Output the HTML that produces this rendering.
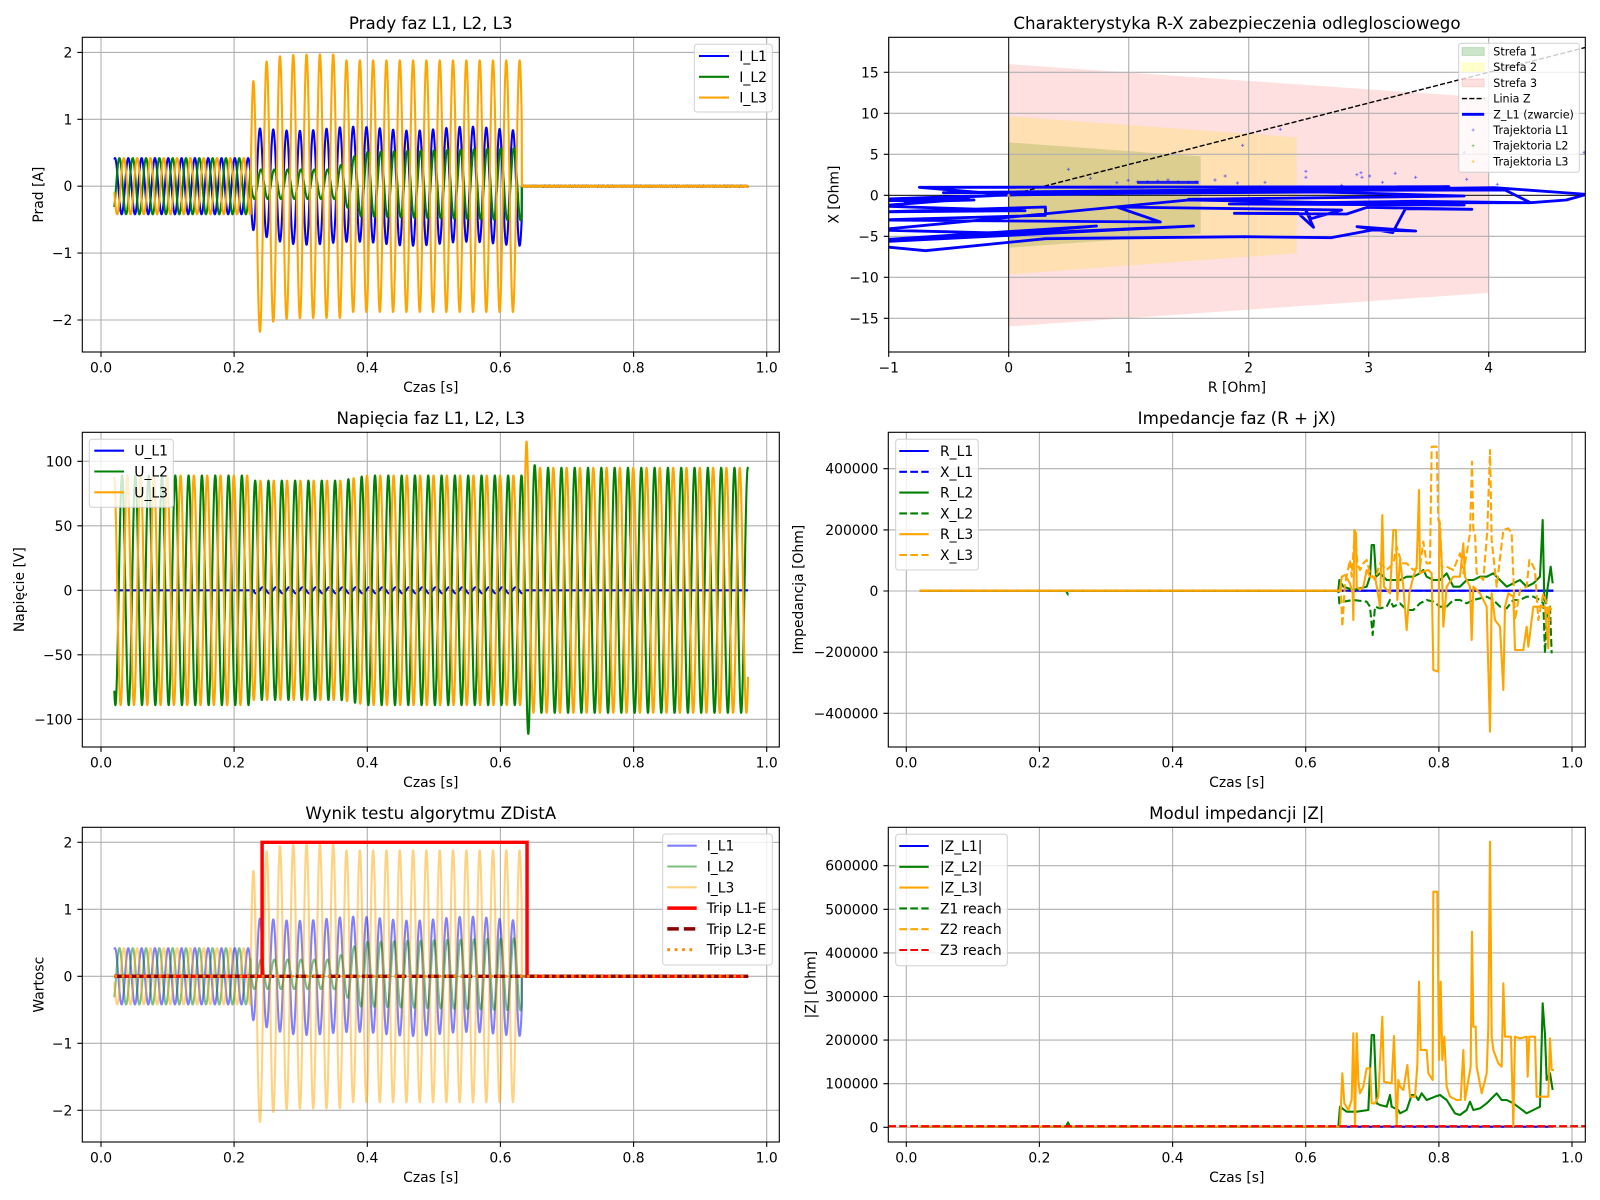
<!DOCTYPE html>
<html><head><meta charset="utf-8">
<style>
html,body{margin:0;padding:0;background:#fff;}
svg{display:block;font-family:"DejaVu Sans","Liberation Sans",sans-serif;}
.tk{font-size:13.9px;fill:#000}
.tt{font-size:16.7px;fill:#000}
.lb{font-size:13.9px;fill:#000}
.lg8{font-size:11.1px;fill:#000}
.gr{stroke:#b0b0b0;stroke-width:1.1;fill:none}
.tm{stroke:#000;stroke-width:1.1;fill:none}
.sp{stroke:#000;stroke-width:1.1;fill:none}
.lgb{fill:#fff;fill-opacity:0.8;stroke:#d0d0d0;stroke-width:1}
</style></head><body>
<svg xmlns="http://www.w3.org/2000/svg" width="1600" height="1200" viewBox="0 0 1600 1200">
<rect width="1600" height="1200" fill="#fff"/>
<defs>
<clipPath id="c1"><rect x="82.3" y="37.3" width="697" height="314.7"/></clipPath>
<clipPath id="c2"><rect x="888.7" y="37.3" width="696.6" height="314.7"/></clipPath>
<clipPath id="c3"><rect x="82.3" y="432.3" width="697" height="314.7"/></clipPath>
<clipPath id="c4"><rect x="888.3" y="432.3" width="697" height="314.7"/></clipPath>
<clipPath id="c5"><rect x="82.3" y="827.3" width="697" height="314.7"/></clipPath>
<clipPath id="c6"><rect x="888.3" y="827.3" width="697" height="314.7"/></clipPath>
</defs>

<!-- ===== A2 zones (below grid) ===== -->
<g clip-path="url(#c2)">
<polygon points="1008.7,142.4 1200.7,156.4 1200.7,233.8 1008.7,247.8" fill="#008000" fill-opacity="0.2"/>
<polygon points="1008.7,116.2 1296.7,137.3 1296.7,253.3 1008.7,274.4" fill="#ffff00" fill-opacity="0.2"/>
<polygon points="1008.7,64.1 1488.7,97.7 1488.7,292.9 1008.7,326.5" fill="#ff0000" fill-opacity="0.12"/>
</g>

<!-- ===== Grids ===== -->
<path class="gr" d="M101 37.3V352M234.1 37.3V352M367.3 37.3V352M500.4 37.3V352M633.6 37.3V352M766.7 37.3V352M82.3 52.4H779.3M82.3 119.3H779.3M82.3 186.2H779.3M82.3 253.1H779.3M82.3 320H779.3"/>
<path class="gr" d="M888.7 37.3V352M1008.7 37.3V352M1128.7 37.3V352M1248.7 37.3V352M1368.7 37.3V352M1488.7 37.3V352M888.7 72.3H1585.3M888.7 113.3H1585.3M888.7 154.3H1585.3M888.7 195.3H1585.3M888.7 236.3H1585.3M888.7 277.3H1585.3M888.7 318.3H1585.3"/>
<path class="gr" d="M101 432.3V747M234.1 432.3V747M367.3 432.3V747M500.4 432.3V747M633.6 432.3V747M766.7 432.3V747M82.3 461.3H779.3M82.3 525.8H779.3M82.3 590.3H779.3M82.3 654.8H779.3M82.3 719.3H779.3"/>
<path class="gr" d="M906.3 432.3V747M1039.4 432.3V747M1172.6 432.3V747M1305.7 432.3V747M1438.9 432.3V747M1572 432.3V747M888.3 468.7H1585.3M888.3 529.9H1585.3M888.3 591H1585.3M888.3 652.2H1585.3M888.3 713.3H1585.3"/>
<path class="gr" d="M101 827.3V1142M234.1 827.3V1142M367.3 827.3V1142M500.4 827.3V1142M633.6 827.3V1142M766.7 827.3V1142M82.3 842.3H779.3M82.3 909.3H779.3M82.3 976.3H779.3M82.3 1043.3H779.3M82.3 1110.3H779.3"/>
<path class="gr" d="M906.3 827.3V1142M1039.4 827.3V1142M1172.6 827.3V1142M1305.7 827.3V1142M1438.9 827.3V1142M1572 827.3V1142M888.3 865.7H1585.3M888.3 909.3H1585.3M888.3 952.9H1585.3M888.3 996.5H1585.3M888.3 1040.1H1585.3M888.3 1083.7H1585.3M888.3 1127.3H1585.3"/>

<!-- A2 static lines -->
<g clip-path="url(#c2)">
<path d="M1008.7 37.3V352M888.7 195.3H1585.3" stroke="#000" stroke-width="0.9" fill="none"/>
<path d="M1008.7 195.3L1590.7 46.1" stroke="#000" stroke-width="1.39" fill="none" stroke-dasharray="5.1 2.2"/>
</g>

<!-- data groups -->
<g id="d1" clip-path="url(#c1)"></g>
<g id="d2" clip-path="url(#c2)"></g>
<g id="d3" clip-path="url(#c3)"></g>
<g id="d4" clip-path="url(#c4)"></g>
<g id="d5" clip-path="url(#c5)"></g>
<g id="d6" clip-path="url(#c6)"></g>

<!-- spines -->
<rect class="sp" x="82.3" y="37.3" width="697" height="314.7"/>
<rect class="sp" x="888.7" y="37.3" width="696.6" height="314.7"/>
<rect class="sp" x="82.3" y="432.3" width="697" height="314.7"/>
<rect class="sp" x="888.3" y="432.3" width="697" height="314.7"/>
<rect class="sp" x="82.3" y="827.3" width="697" height="314.7"/>
<rect class="sp" x="888.3" y="827.3" width="697" height="314.7"/>

<!-- tick marks -->
<path class="tm" d="M101 352v4.9M234.1 352v4.9M367.3 352v4.9M500.4 352v4.9M633.6 352v4.9M766.7 352v4.9M82.3 52.4h-4.9M82.3 119.3h-4.9M82.3 186.2h-4.9M82.3 253.1h-4.9M82.3 320h-4.9"/>
<path class="tm" d="M888.7 352v4.9M1008.7 352v4.9M1128.7 352v4.9M1248.7 352v4.9M1368.7 352v4.9M1488.7 352v4.9M888.7 72.3h-4.9M888.7 113.3h-4.9M888.7 154.3h-4.9M888.7 195.3h-4.9M888.7 236.3h-4.9M888.7 277.3h-4.9M888.7 318.3h-4.9"/>
<path class="tm" d="M101 747v4.9M234.1 747v4.9M367.3 747v4.9M500.4 747v4.9M633.6 747v4.9M766.7 747v4.9M82.3 461.3h-4.9M82.3 525.8h-4.9M82.3 590.3h-4.9M82.3 654.8h-4.9M82.3 719.3h-4.9"/>
<path class="tm" d="M906.3 747v4.9M1039.4 747v4.9M1172.6 747v4.9M1305.7 747v4.9M1438.9 747v4.9M1572 747v4.9M888.3 468.7h-4.9M888.3 529.9h-4.9M888.3 591h-4.9M888.3 652.2h-4.9M888.3 713.3h-4.9"/>
<path class="tm" d="M101 1142v4.9M234.1 1142v4.9M367.3 1142v4.9M500.4 1142v4.9M633.6 1142v4.9M766.7 1142v4.9M82.3 842.3h-4.9M82.3 909.3h-4.9M82.3 976.3h-4.9M82.3 1043.3h-4.9M82.3 1110.3h-4.9"/>
<path class="tm" d="M906.3 1142v4.9M1039.4 1142v4.9M1172.6 1142v4.9M1305.7 1142v4.9M1438.9 1142v4.9M1572 1142v4.9M888.3 865.7h-4.9M888.3 909.3h-4.9M888.3 952.9h-4.9M888.3 996.5h-4.9M888.3 1040.1h-4.9M888.3 1083.7h-4.9M888.3 1127.3h-4.9"/>

<!-- ===== tick labels ===== -->
<g class="tk" text-anchor="middle">
<text x="101" y="372.3">0.0</text><text x="234.1" y="372.3">0.2</text><text x="367.3" y="372.3">0.4</text><text x="500.4" y="372.3">0.6</text><text x="633.6" y="372.3">0.8</text><text x="766.7" y="372.3">1.0</text>
<text x="888.7" y="372.3">−1</text><text x="1008.7" y="372.3">0</text><text x="1128.7" y="372.3">1</text><text x="1248.7" y="372.3">2</text><text x="1368.7" y="372.3">3</text><text x="1488.7" y="372.3">4</text>
<text x="101" y="767.3">0.0</text><text x="234.1" y="767.3">0.2</text><text x="367.3" y="767.3">0.4</text><text x="500.4" y="767.3">0.6</text><text x="633.6" y="767.3">0.8</text><text x="766.7" y="767.3">1.0</text>
<text x="906.3" y="767.3">0.0</text><text x="1039.4" y="767.3">0.2</text><text x="1172.6" y="767.3">0.4</text><text x="1305.7" y="767.3">0.6</text><text x="1438.9" y="767.3">0.8</text><text x="1572" y="767.3">1.0</text>
<text x="101" y="1162.3">0.0</text><text x="234.1" y="1162.3">0.2</text><text x="367.3" y="1162.3">0.4</text><text x="500.4" y="1162.3">0.6</text><text x="633.6" y="1162.3">0.8</text><text x="766.7" y="1162.3">1.0</text>
<text x="906.3" y="1162.3">0.0</text><text x="1039.4" y="1162.3">0.2</text><text x="1172.6" y="1162.3">0.4</text><text x="1305.7" y="1162.3">0.6</text><text x="1438.9" y="1162.3">0.8</text><text x="1572" y="1162.3">1.0</text>
</g>
<g class="tk" text-anchor="end">
<text x="72.3" y="57.4">2</text><text x="72.3" y="124.3">1</text><text x="72.3" y="191.2">0</text><text x="72.3" y="258.1">−1</text><text x="72.3" y="325">−2</text>
<text x="878.7" y="77.3">15</text><text x="878.7" y="118.3">10</text><text x="878.7" y="159.3">5</text><text x="878.7" y="200.3">0</text><text x="878.7" y="241.3">−5</text><text x="878.7" y="282.3">−10</text><text x="878.7" y="323.3">−15</text>
<text x="72.3" y="466.3">100</text><text x="72.3" y="530.8">50</text><text x="72.3" y="595.3">0</text><text x="72.3" y="659.8">−50</text><text x="72.3" y="724.3">−100</text>
<text x="878.3" y="473.7">400000</text><text x="878.3" y="534.9">200000</text><text x="878.3" y="596">0</text><text x="878.3" y="657.2">−200000</text><text x="878.3" y="718.3">−400000</text>
<text x="72.3" y="847.3">2</text><text x="72.3" y="914.3">1</text><text x="72.3" y="981.3">0</text><text x="72.3" y="1048.3">−1</text><text x="72.3" y="1115.3">−2</text>
<text x="878.3" y="870.7">600000</text><text x="878.3" y="914.3">500000</text><text x="878.3" y="957.9">400000</text><text x="878.3" y="1001.5">300000</text><text x="878.3" y="1045.1">200000</text><text x="878.3" y="1088.7">100000</text><text x="878.3" y="1132.3">0</text>
</g>

<!-- titles -->
<g class="tt" text-anchor="middle">
<text x="430.8" y="29">Prady faz L1, L2, L3</text>
<text x="1237" y="29">Charakterystyka R-X zabezpieczenia odleglosciowego</text>
<text x="430.8" y="424">Napięcia faz L1, L2, L3</text>
<text x="1236.8" y="424">Impedancje faz (R + jX)</text>
<text x="430.8" y="819">Wynik testu algorytmu ZDistA</text>
<text x="1236.8" y="819">Modul impedancji |Z|</text>
</g>

<!-- axis labels -->
<g class="lb" text-anchor="middle">
<text x="430.8" y="392">Czas [s]</text>
<text x="1237" y="392">R [Ohm]</text>
<text x="430.8" y="787">Czas [s]</text>
<text x="1236.8" y="787">Czas [s]</text>
<text x="430.8" y="1182">Czas [s]</text>
<text x="1236.8" y="1182">Czas [s]</text>
<text transform="translate(43,194.65) rotate(-90)">Prad [A]</text>
<text transform="translate(838.5,194.65) rotate(-90)">X [Ohm]</text>
<text transform="translate(24,589.65) rotate(-90)">Napięcie [V]</text>
<text transform="translate(803,589.65) rotate(-90)">Impedancja [Ohm]</text>
<text transform="translate(43.5,984.65) rotate(-90)">Wartosc</text>
<text transform="translate(815.5,984.65) rotate(-90)">|Z| [Ohm]</text>
</g>

<!-- ===== Legends ===== -->
<g>
<rect class="lgb" x="694.3" y="44.3" width="78" height="67.7" rx="2.8"/>
<path d="M699 56H729" stroke="#0000ff" stroke-width="2.08"/>
<path d="M699 76.8H729" stroke="#008000" stroke-width="2.08"/>
<path d="M699 97.6H729" stroke="#ffa500" stroke-width="2.08"/>
<g class="lb"><text x="739.3" y="61">I_L1</text><text x="739.3" y="81.8">I_L2</text><text x="739.3" y="102.6">I_L3</text></g>
</g>
<g>
<rect class="lgb" x="89.3" y="439.3" width="84" height="68" rx="2.8"/>
<path d="M94.3 450.7H124" stroke="#0000ff" stroke-width="2.08"/>
<path d="M94.3 471.5H124" stroke="#008000" stroke-width="2.08"/>
<path d="M94.3 492.3H124" stroke="#ffa500" stroke-width="2.08"/>
<g class="lb"><text x="134.3" y="455.7">U_L1</text><text x="134.3" y="476.5">U_L2</text><text x="134.3" y="497.3">U_L3</text></g>
</g>
<g>
<rect class="lgb" x="895.7" y="439.3" width="82.6" height="130.7" rx="2.8"/>
<path d="M899.3 451H928.7" stroke="#0000ff" stroke-width="2.08"/>
<path d="M899.3 471.8H928.7" stroke="#0000ff" stroke-width="2.08" stroke-dasharray="7.7 3.3"/>
<path d="M899.3 492.6H928.7" stroke="#008000" stroke-width="2.08"/>
<path d="M899.3 513.4H928.7" stroke="#008000" stroke-width="2.08" stroke-dasharray="7.7 3.3"/>
<path d="M899.3 534.2H928.7" stroke="#ffa500" stroke-width="2.08"/>
<path d="M899.3 555H928.7" stroke="#ffa500" stroke-width="2.08" stroke-dasharray="7.7 3.3"/>
<g class="lb"><text x="940" y="456">R_L1</text><text x="940" y="476.8">X_L1</text><text x="940" y="497.6">R_L2</text><text x="940" y="518.4">X_L2</text><text x="940" y="539.2">R_L3</text><text x="940" y="560">X_L3</text></g>
</g>
<g>
<rect class="lgb" x="662.7" y="834" width="109.6" height="131" rx="2.8"/>
<path d="M667.3 845.7H696.7" stroke="#0000ff" stroke-opacity="0.5" stroke-width="2.08"/>
<path d="M667.3 866.5H696.7" stroke="#008000" stroke-opacity="0.5" stroke-width="2.08"/>
<path d="M667.3 887.3H696.7" stroke="#ffa500" stroke-opacity="0.5" stroke-width="2.08"/>
<path d="M667.3 908.1H696.7" stroke="#ff0000" stroke-width="3.47"/>
<path d="M667.3 928.9H696.7" stroke="#8b0000" stroke-width="3.47" stroke-dasharray="11.5 5"/>
<path d="M667.3 949.7H696.7" stroke="#ff8c00" stroke-width="2.78" stroke-dasharray="2.78 4.59"/>
<g class="lb"><text x="706.7" y="850.7">I_L1</text><text x="706.7" y="871.5">I_L2</text><text x="706.7" y="892.3">I_L3</text><text x="706.7" y="913.1">Trip L1-E</text><text x="706.7" y="933.9">Trip L2-E</text><text x="706.7" y="954.7">Trip L3-E</text></g>
</g>
<g>
<rect class="lgb" x="895.7" y="834.3" width="111.6" height="131.4" rx="2.8"/>
<path d="M899.3 846H928.7" stroke="#0000ff" stroke-width="2.08"/>
<path d="M899.3 866.8H928.7" stroke="#008000" stroke-width="2.08"/>
<path d="M899.3 887.6H928.7" stroke="#ffa500" stroke-width="2.08"/>
<path d="M899.3 908.4H928.7" stroke="#008000" stroke-width="2.08" stroke-dasharray="7.7 3.3"/>
<path d="M899.3 929.2H928.7" stroke="#ffa500" stroke-width="2.08" stroke-dasharray="7.7 3.3"/>
<path d="M899.3 950H928.7" stroke="#ff0000" stroke-width="2.08" stroke-dasharray="7.7 3.3"/>
<g class="lb"><text x="940" y="851">|Z_L1|</text><text x="940" y="871.8">|Z_L2|</text><text x="940" y="892.6">|Z_L3|</text><text x="940" y="913.4">Z1 reach</text><text x="940" y="934.2">Z2 reach</text><text x="940" y="955">Z3 reach</text></g>
</g>
<g>
<rect class="lgb" x="1458.7" y="43.3" width="120.6" height="129" rx="2.5"/>
<rect x="1462" y="47.6" width="22.2" height="7.8" fill="#008000" fill-opacity="0.2" stroke="#008000" stroke-opacity="0.2"/>
<rect x="1462" y="63.3" width="22.2" height="7.8" fill="#ffff00" fill-opacity="0.2" stroke="#ffff00" stroke-opacity="0.2"/>
<rect x="1462" y="79" width="22.2" height="7.8" fill="#ff0000" fill-opacity="0.12" stroke="#ff0000" stroke-opacity="0.12"/>
<path d="M1462 98.6H1484.2" stroke="#000" stroke-width="1.39" stroke-dasharray="5.1 2.2"/>
<path d="M1462 114.3H1484.2" stroke="#0000ff" stroke-width="2.8"/>
<path d="M1471.6 130H1474.6M1473.1 128.5V131.5" stroke="#0000ff" stroke-opacity="0.5" stroke-width="0.8"/>
<path d="M1471.6 145.7H1474.6M1473.1 144.2V147.2" stroke="#008000" stroke-opacity="0.5" stroke-width="0.8"/>
<path d="M1471.6 161.4H1474.6M1473.1 159.9V162.9" stroke="#ffa500" stroke-opacity="0.7" stroke-width="0.8"/>
<g class="lg8"><text x="1493.3" y="55.5">Strefa 1</text><text x="1493.3" y="71.2">Strefa 2</text><text x="1493.3" y="86.9">Strefa 3</text><text x="1493.3" y="102.6">Linia Z</text><text x="1493.3" y="118.3">Z_L1 (zwarcie)</text><text x="1493.3" y="134">Trajektoria L1</text><text x="1493.3" y="149.7">Trajektoria L2</text><text x="1493.3" y="165.4">Trajektoria L3</text></g>
</g>
</svg>

<script>
(function(){
var NS="http://www.w3.org/2000/svg";
function P(pts){var s='';for(var i=0;i<pts.length;i++){s+=(i?'L':'M')+pts[i][0].toFixed(2)+' '+pts[i][1].toFixed(2);}return s;}
function add(gid,pts,stroke,w,extra){var p=document.createElementNS(NS,'path');p.setAttribute('d',typeof pts==='string'?pts:P(pts));p.setAttribute('fill','none');p.setAttribute('stroke',stroke);p.setAttribute('stroke-width',w);p.setAttribute('stroke-linejoin','round');if(extra){for(var k in extra)p.setAttribute(k,extra[k]);}document.getElementById(gid).appendChild(p);}
var W=2*Math.PI*50,D=Math.PI/180,tf=0.225,tc=0.636,tci=0.632;
function I1(t){if(t<tf)return 0.42*Math.sin(W*t+72*D);if(t<tci){var e=Math.exp(-(t-0.2288)/0.03);return (0.86-0.1*e)*Math.sin(W*t+111.6*D)+0.08*e+0.03*Math.sin(t*37);}return 0.006*Math.sin(t*2113)+0.004*Math.sin(t*5231);}
function I2(t){if(t<tf)return 0.42*Math.sin(W*t-48*D);if(t<tci){var a=t<0.35?0.22:(t<0.39?0.22+(t-0.35)/0.04*0.26:0.48+(t-0.39)*0.25);return a*Math.sin(W*t+84.7*D)+0.03;}return 0.005*Math.sin(t*3001);}
function I3(t){if(t<tf)return 0.42*Math.sin(W*t+192*D);if(t<tci){var a=t<0.36?1.97:1.88;return a*Math.sin(W*t-68.4*D)-0.4*Math.exp(-(t-0.2288)/0.015);}return 0.007*Math.sin(t*1789)+0.004*Math.sin(t*4447);}
function Uamp(t){if(t<tf)return 89;if(t<0.36)return 85;if(t<0.40)return 85+(t-0.36)/0.04*4;if(t<tc)return 89;return 95;}
function U1(t){if(t>=0.23&&t<tc)return 2.5*Math.sin(W*t+30*D);return 0;}
function U2(t){return (Uamp(t)+20*Math.exp(-Math.pow((t-0.644)/0.005,2)))*Math.sin(W*t-119*D);}
function U3(t){return (Uamp(t)+22*Math.exp(-Math.pow((t-0.6385)/0.003,2)))*Math.sin(W*t+99*D);}
function samp(f,X,Y){var pts=[];for(var t=0.02;t<=0.9721;t+=0.0002){pts.push([X(t),Y(f(t))]);}return pts;}
var XL=function(t){return 101+665.7*t;};
var Y1=function(v){return 186.2-66.9*v;};
var Y3=function(v){return 590.3-1.29*v;};
var Y5=function(v){return 976.3-67*v;};
var LW=2.08;
add('d1',samp(I1,XL,Y1),'#0000ff',LW);
add('d1',samp(I2,XL,Y1),'#008000',LW);
add('d1',samp(I3,XL,Y1),'#ffa500',LW);
add('d3',samp(U1,XL,Y3),'#0000ff',LW);
add('d3',samp(U2,XL,Y3),'#008000',LW);
add('d3',samp(U3,XL,Y3),'#ffa500',LW);
add('d5',samp(I1,XL,Y5),'#0000ff',LW,{'stroke-opacity':'0.5'});
add('d5',samp(I2,XL,Y5),'#008000',LW,{'stroke-opacity':'0.5'});
add('d5',samp(I3,XL,Y5),'#ffa500',LW,{'stroke-opacity':'0.5'});
add('d5',[[XL(0.02),Y5(0)],[XL(0.242),Y5(0)],[XL(0.242),Y5(2)],[XL(0.640),Y5(2)],[XL(0.640),Y5(0)],[XL(0.972),Y5(0)]],'#ff0000',3.47,{'stroke-linejoin':'miter'});
add('d5',[[XL(0.02),Y5(0)],[XL(0.972),Y5(0)]],'#8b0000',3.47,{'stroke-dasharray':'11.5 5'});
add('d5',[[XL(0.02),Y5(0)],[XL(0.972),Y5(0)]],'#ff8c00',2.78,{'stroke-dasharray':'2.78 4.59'});

function z9(a){return a.map(function(p){return [1300+p[0]/3,420+p[1]/3];});}
var f0=[919.6,590.7];
var RL3=[[120,512],[125,470],[135,465],[150,490],[158,520],[160,600],[163,330],[168,340],[170,500],[180,510],[190,500],[200,450],[210,470],[225,470],[232,510],[240,560],[247,285],[252,500],[270,520],[280,330],[288,330],[292,540],[300,420],[310,500],[320,630],[328,520],[340,470],[350,440],[357,210],[360,460],[370,455],[385,450],[395,460],[400,750],[415,755],[418,300],[425,420],[430,620],[440,500],[460,470],[480,470],[490,370],[495,470],[510,500],[515,660],[520,500],[540,520],[560,560],[570,935],[575,520],[585,600],[600,620],[610,810],[615,560],[625,520],[640,530],[645,690],[670,690],[680,620],[685,680],[700,560],[720,560],[735,560],[745,685],[748,560],[755,570]];
var XL3=[[120,512],[122,490],[127,620],[135,490],[150,420],[155,470],[165,330],[172,430],[180,450],[190,430],[200,420],[210,460],[225,480],[240,430],[260,450],[280,430],[290,380],[305,430],[320,430],[340,450],[360,440],[370,365],[380,430],[390,430],[395,80],[410,80],[415,300],[420,310],[425,440],[440,440],[460,450],[480,400],[490,460],[510,340],[516,125],[520,330],[525,340],[530,460],[550,480],[562,330],[570,90],[575,360],[590,500],[610,330],[625,325],[635,340],[645,600],[660,510],[680,500],[688,420],[695,430],[705,450],[715,600],[730,520],[740,550],[745,600],[752,600]];
var RL2=[[115,512],[118,480],[130,500],[160,510],[200,500],[210,470],[215,375],[222,375],[228,470],[240,460],[260,480],[280,480],[300,480],[320,470],[340,470],[360,460],[370,450],[380,470],[400,480],[420,480],[440,460],[460,500],[480,500],[500,480],[520,480],[540,470],[560,470],[580,460],[600,480],[620,500],[640,490],[660,480],[680,500],[700,490],[720,470],[728,300],[733,540],[738,550],[742,510],[752,440],[758,490]];
var XL2=[[115,512],[118,550],[130,545],[160,540],[200,545],[210,560],[218,645],[225,560],[240,565],[260,560],[270,540],[280,560],[300,550],[320,570],[340,570],[360,550],[380,540],[400,545],[420,560],[440,560],[460,540],[480,540],[500,550],[520,540],[540,535],[560,530],[580,540],[600,560],[620,565],[640,540],[660,540],[680,530],[700,530],[720,540],[730,550],[735,700],[740,590],[750,560],[755,700]];
add('d4',[f0,[1553.3,590.7]],'#0000ff',LW);
add('d4',[f0,[1553.3,590.7]],'#0000ff',LW,{'stroke-dasharray':'7.7 3.3'});
add('d4',[f0].concat(z9(RL2)),'#008000',LW);
add('d4',[f0,[1066,590.7],[1068,594.5],[1070,590.7]].concat(z9(XL2)),'#008000',LW,{'stroke-dasharray':'7.7 3.3'});
add('d4',[f0].concat(z9(RL3)),'#ffa500',LW);
add('d4',[f0].concat(z9(XL3)),'#ffa500',LW,{'stroke-dasharray':'7.7 3.3'});

function z10(a){return a.map(function(p){return [1300+p[0]/3,820+p[1]/3];});}
var g0=[919.6,1126.7];
var ZL3=[[120,920],[127,760],[133,850],[145,870],[155,840],[160,640],[165,920],[170,640],[175,780],[180,820],[190,800],[200,745],[210,745],[215,850],[225,850],[235,830],[247,590],[252,785],[275,790],[282,648],[290,920],[295,780],[300,800],[310,810],[322,735],[330,830],[345,830],[352,735],[357,485],[362,690],[380,690],[385,760],[398,780],[400,215],[412,215],[417,720],[422,485],[427,720],[433,650],[440,800],[450,830],[470,840],[482,840],[490,690],[495,840],[512,740],[516,335],[520,620],[527,620],[530,740],[545,820],[560,760],[565,620],[570,65],[575,650],[580,690],[595,730],[605,740],[610,490],[615,650],[625,650],[633,650],[640,920],[645,650],[660,655],[680,650],[683,770],[688,650],[700,650],[705,650],[710,830],[745,830],[750,655],[755,750],[762,750]];
var ZL2=[[115,920],[120,860],[140,875],[170,875],[205,870],[215,645],[222,645],[230,850],[240,855],[260,860],[270,825],[275,860],[295,870],[300,880],[320,870],[335,825],[345,825],[355,840],[365,820],[380,840],[405,830],[420,825],[440,840],[465,880],[480,885],[500,870],[510,845],[520,870],[540,865],[560,850],[580,830],[590,820],[605,840],[620,840],[640,850],[660,865],[680,880],[700,870],[720,860],[728,550],[735,645],[740,780],[750,760],[758,810]];
add('d6',[g0,[1553.3,1126.7]],'#0000ff',LW);
add('d6',[g0,[1066,1126.7],[1068,1122.5],[1070,1126.7]].concat(z10(ZL2)),'#008000',LW);
add('d6',[g0].concat(z10(ZL3)),'#ffa500',LW);
add('d6',[[888.3,1126.4],[1585.3,1126.4]],'#008000',LW,{'stroke-dasharray':'7.7 3.3'});
add('d6',[[888.3,1126.4],[1585.3,1126.4]],'#ffa500',LW,{'stroke-dasharray':'7.7 3.3'});
add('d6',[[888.3,1126.2],[1585.3,1126.2]],'#ff0000',LW,{'stroke-dasharray':'7.7 3.3'});

function z2(a){return a.map(function(p){return [1008.7+(p[0]-408)*0.5106,p[1]/3];});}
var TR=[[410,585],[233,562],[1270,560],[980,567],[280,578],[760,574],[1360,563],[1540,583],[1500,600],[1430,608],[1000,608],[760,598],[1300,588],[1020,576],[640,580],[410,585],[150,602],[340,600],[205,606],[330,597],[150,618],[440,632],[150,636],[480,621],[480,646],[150,660],[705,666],[620,621],[1060,630],[1000,656],[990,632],[1005,682],[975,640],[850,640],[1070,642],[1110,622],[1315,628],[1185,626],[1160,698],[1090,680],[1205,693],[1120,690],[1040,713],[870,710],[480,716],[245,752],[150,738],[150,726],[770,678],[150,720],[580,678],[410,700],[150,690],[760,600],[1300,615],[840,612],[1200,604],[1430,608],[1380,570],[700,572],[300,590],[150,598]];
add('d2',z2(TR),'#0000ff',2.8);
add('d2',z2([[660,547],[780,547]]),'#0000ff',3,{'stroke-opacity':'0.85'});
var MK=[[525,508],[568,535],[620,548],[642,541],[660,546],[680,545],[700,543],[720,540],[740,545],[760,547],[775,546],[812,540],[832,528],[856,549],[866,436],[910,547],[940,388],[990,514],[990,532],[1090,524],[1098,518],[1100,532],[1115,528],[1140,547],[1165,520],[1205,532],[1305,538],[1365,553],[1535,457],[1300,457],[900,560],[1060,556],[870,712],[1160,565]];
var s='';z2(MK).forEach(function(p){s+='M'+(p[0]-1.6).toFixed(1)+' '+p[1].toFixed(1)+'h3.2M'+p[0].toFixed(1)+' '+(p[1]-1.6).toFixed(1)+'v3.2';});
add('d2',s,'#0000ff',0.9,{'stroke-opacity':'0.55'});
add('d2','M1007.1 195.3h3.2M1008.7 193.7v3.2','#008000',0.9,{'stroke-opacity':'0.6'});
add('d2','M1007.1 195.3h3.2M1008.7 193.7v3.2','#ffa500',1.2,{'stroke-opacity':'0.9'});
})();
</script>
</body></html>
